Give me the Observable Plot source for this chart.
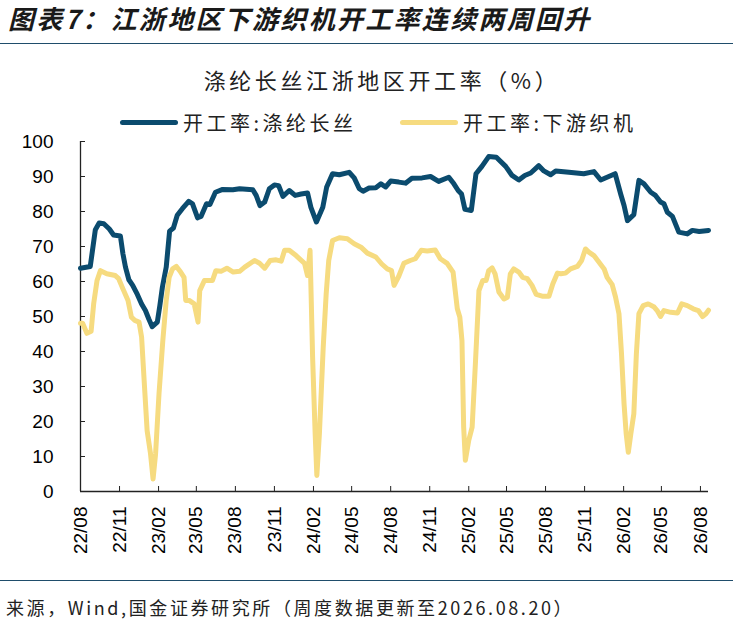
<!DOCTYPE html>
<html><head><meta charset="utf-8">
<script src="https://cdn.jsdelivr.net/npm/d3@7"></script>
<script src="https://cdn.jsdelivr.net/npm/@observablehq/plot@0.6"></script>
<style>
body{margin:0;width:733px;height:622px;position:relative;background:#fff;overflow:hidden;font-family:"Noto Sans CJK SC",sans-serif;}
#title{position:absolute;left:8px;top:2px;font-size:26px;font-weight:700;font-style:italic;letter-spacing:2.3px;color:#1a1a1a;line-height:32px;white-space:nowrap;}
.rule{position:absolute;left:0;width:733px;height:0;border-top:1.5px solid #1f4d6b;}
#ctitle{position:absolute;left:382px;top:64px;transform:translateX(-50%);font-size:22px;letter-spacing:3.6px;line-height:30px;color:#222;white-space:nowrap;}
.leg{position:absolute;top:108px;height:28px;display:flex;align-items:center;font-size:20px;letter-spacing:3.5px;color:#222;white-space:nowrap;}
.sw{width:58px;height:5px;border-radius:3px;margin-right:5px;}
#chart{position:absolute;left:0;top:125px;}
#source{position:absolute;left:6px;top:594px;font-size:18px;line-height:26px;letter-spacing:2.6px;color:#222;white-space:nowrap;}
</style></head>
<body>
<div id="title">图表7：江浙地区下游织机开工率连续两周回升</div>
<div class="rule" style="top:43px"></div>
<div id="ctitle">涤纶长丝江浙地区开工率（%）</div>
<div class="leg" style="left:120px"><div class="sw" id="sw1"></div><span id="lab1"></span></div>
<div class="leg" style="left:400px"><div class="sw" id="sw2"></div><span id="lab2"></span></div>
<div id="chart"></div>
<div class="rule" style="top:580px"></div>
<div id="source">来源，Wind,国金证券研究所（周度数据更新至2026.08.20）</div>
<script>
const seriesNames = ["开工率:涤纶长丝", "开工率:下游织机"];
const seriesColors = ["#0b4b6e", "#f6db80"];

const polyesterDates = ["2022-08-01","2022-08-24","2022-09-05","2022-09-14","2022-09-25","2022-10-08","2022-10-18","2022-11-03","2022-11-09","2022-11-15","2022-11-23","2022-12-02","2022-12-13","2022-12-23","2023-01-01","2023-01-09","2023-01-17","2023-01-29","2023-02-04","2023-02-10","2023-02-19","2023-02-27","2023-03-08","2023-03-17","2023-03-29","2023-04-13","2023-04-22","2023-05-04","2023-05-12","2023-05-25","2023-06-02","2023-06-15","2023-07-02","2023-07-26","2023-08-11","2023-09-11","2023-09-19","2023-09-28","2023-10-09","2023-10-20","2023-11-01","2023-11-11","2023-11-21","2023-12-06","2023-12-20","2024-01-03","2024-01-18","2024-01-26","2024-02-08","2024-02-23","2024-03-03","2024-03-17","2024-04-02","2024-04-25","2024-05-07","2024-05-19","2024-05-28","2024-06-11","2024-06-27","2024-07-09","2024-07-20","2024-08-01","2024-08-20","2024-09-05","2024-09-20","2024-10-14","2024-11-03","2024-11-22","2024-12-16","2024-12-28","2025-01-07","2025-01-15","2025-01-23","2025-02-07","2025-02-18","2025-03-04","2025-03-20","2025-04-07","2025-04-29","2025-05-14","2025-05-30","2025-06-13","2025-06-27","2025-07-16","2025-07-28","2025-08-13","2025-08-25","2025-09-25","2025-10-30","2025-11-23","2025-12-09","2025-12-28","2026-01-12","2026-01-25","2026-02-02","2026-02-10","2026-02-25","2026-03-09","2026-03-21","2026-04-06","2026-04-17","2026-04-29","2026-05-07","2026-05-15","2026-05-27","2026-06-11","2026-07-01","2026-07-13","2026-07-29","2026-08-20"];
const polyesterValues = [63.8,64.3,74.8,76.7,76.5,75.0,73.3,73.0,67.9,64.1,60.5,58.9,56.3,53.6,51.7,49.3,47.1,48.4,53.1,58.4,64.1,74.4,75.3,78.9,80.8,82.9,82.2,78.2,78.6,82.2,82.0,85.5,86.3,86.2,86.5,86.2,84.6,81.7,82.7,86.5,87.6,87.4,84.3,86.0,84.6,85.0,85.3,81.2,77.0,81.2,86.9,90.8,90.5,91.2,89.6,86.5,85.8,86.7,86.8,87.9,87.0,88.7,88.4,88.1,89.5,89.6,90.0,88.6,89.8,87.9,86.0,85.0,80.6,80.3,90.8,92.9,95.7,95.5,92.9,90.3,89.0,90.3,91.0,93.1,91.6,90.5,91.6,91.2,90.8,91.4,89.0,90.0,90.8,85.0,81.7,77.4,79.1,88.9,87.9,85.5,84.6,82.7,82.2,79.8,78.6,74.1,73.6,74.6,74.3,74.6];

const weavingDates = ["2022-08-01","2022-08-06","2022-08-16","2022-08-26","2022-09-01","2022-09-09","2022-09-17","2022-10-02","2022-10-22","2022-10-30","2022-11-09","2022-11-21","2022-11-29","2022-12-07","2022-12-17","2022-12-23","2022-12-29","2023-01-05","2023-01-13","2023-01-19","2023-01-25","2023-02-02","2023-02-11","2023-02-19","2023-02-26","2023-03-06","2023-03-15","2023-03-25","2023-04-02","2023-04-06","2023-04-14","2023-04-26","2023-05-05","2023-05-09","2023-05-20","2023-06-08","2023-06-16","2023-06-28","2023-07-12","2023-07-27","2023-08-11","2023-08-23","2023-09-15","2023-09-27","2023-10-09","2023-10-22","2023-11-05","2023-11-17","2023-11-25","2023-12-06","2023-12-22","2024-01-11","2024-01-18","2024-01-24","2024-01-30","2024-02-05","2024-02-09","2024-02-15","2024-02-24","2024-03-02","2024-03-08","2024-03-17","2024-04-02","2024-04-21","2024-05-07","2024-05-23","2024-06-07","2024-06-27","2024-07-11","2024-07-24","2024-08-03","2024-08-09","2024-08-20","2024-09-01","2024-09-16","2024-09-28","2024-10-12","2024-10-26","2024-11-14","2024-11-26","2024-12-12","2024-12-26","2025-01-05","2025-01-11","2025-01-16","2025-01-20","2025-01-24","2025-02-01","2025-02-09","2025-02-17","2025-02-25","2025-03-06","2025-03-14","2025-03-20","2025-03-28","2025-04-04","2025-04-13","2025-04-25","2025-05-03","2025-05-10","2025-05-18","2025-05-30","2025-06-08","2025-06-19","2025-06-30","2025-07-10","2025-07-24","2025-08-09","2025-08-18","2025-08-29","2025-09-06","2025-09-17","2025-09-29","2025-10-15","2025-10-25","2025-11-03","2025-11-11","2025-11-23","2025-12-05","2025-12-17","2025-12-24","2026-01-05","2026-01-13","2026-01-21","2026-01-27","2026-02-02","2026-02-07","2026-02-12","2026-02-18","2026-02-25","2026-03-03","2026-03-09","2026-03-19","2026-03-31","2026-04-14","2026-04-21","2026-04-29","2026-05-07","2026-05-23","2026-06-08","2026-06-18","2026-07-01","2026-07-15","2026-07-27","2026-08-06","2026-08-14","2026-08-20"];
const weavingValues = [48.1,48.1,45.2,45.8,53.6,60.3,63.1,62.2,61.7,60.8,57.9,54.6,49.8,48.9,48.4,44.1,31.7,17.4,10.8,3.6,10.8,27.9,43.1,54.6,61.2,63.6,64.3,62.7,61.2,54.6,54.6,53.6,48.4,57.4,60.3,60.3,63.1,62.9,63.8,62.7,62.9,64.1,66.0,65.2,63.8,66.0,66.2,65.8,68.9,68.9,67.4,65.2,61.7,68.9,38.4,16.5,4.6,16.5,41.2,56.5,66.0,71.7,72.5,72.2,70.8,69.8,68.1,67.0,65.0,63.6,63.1,58.9,61.5,65.2,66.0,66.5,68.9,68.7,69.0,66.5,65.2,62.7,52.2,49.8,43.1,18.4,8.9,14.6,18.4,37.4,57.4,60.3,60.3,63.1,63.9,62.2,57.0,55.0,55.5,62.2,63.6,62.7,61.2,60.8,58.9,56.3,55.8,55.8,59.3,62.4,62.2,62.4,63.6,64.3,66.0,69.3,68.4,67.4,65.5,63.6,61.2,59.1,55.5,50.8,39.3,25.0,16.5,11.2,16.5,22.2,39.3,50.8,53.1,53.6,52.7,51.7,50.0,51.7,51.2,51.0,53.6,53.1,52.2,51.7,50.0,50.8,51.8];

const xTickLabels = ["22/08","22/11","23/02","23/05","23/08","23/11","24/02","24/05","24/08","24/11","25/02","25/05","25/08","25/11","26/02","26/05","26/08"];
const yTicks = [0,10,20,30,40,50,60,70,80,90,100];
const lastDate = "2026-08-20";

const xTickDates = xTickLabels.map(s => new Date(`20${s.slice(0,2)}-${s.slice(3,5)}-01`));
const polyester = polyesterDates.map((d,i) => ({date: new Date(d), value: polyesterValues[i]}));
const weaving = weavingDates.map((d,i) => ({date: new Date(d), value: weavingValues[i]}));

document.getElementById("sw1").style.background = seriesColors[0];
document.getElementById("sw2").style.background = seriesColors[1];
document.getElementById("lab1").textContent = seriesNames[0];
document.getElementById("lab2").textContent = seriesNames[1];

const chart = Plot.plot({
  width: 733, height: 455,
  marginLeft: 80, marginRight: 25, marginTop: 16, marginBottom: 89,
  x: {type: "utc", domain: [xTickDates[0], new Date(lastDate)], label: null},
  y: {domain: [0, 100], label: null},
  style: {fontFamily: "'Liberation Sans', Arial, sans-serif", fontSize: "19px", color: "#000", background: "transparent", overflow: "visible"},
  marks: [
    Plot.axisY(yTicks, {tickSize: -5, tickFormat: () => "", stroke: "#222", label: null}),
    Plot.axisY(yTicks, {tickSize: 0, tickPadding: 27, fontSize: 19, fill: "#000", label: null}),
    Plot.axisX(xTickDates, {tickSize: -5, tickFormat: () => "", stroke: "#222", label: null}),
    Plot.axisX(xTickDates, {tickSize: 0, tickPadding: 15, tickRotate: -90, tickFormat: d3.utcFormat("%y/%m"), fontSize: 19, fill: "#000", label: null}),
    Plot.ruleY([0], {stroke: "#222", strokeWidth: 1.3}),
    Plot.ruleX([xTickDates[0]], {stroke: "#222", strokeWidth: 1.3}),
    Plot.lineY(polyester, {x: "date", y: "value", stroke: seriesColors[0], strokeWidth: 5, strokeLinejoin: "round", strokeLinecap: "round"}),
    Plot.lineY(weaving, {x: "date", y: "value", stroke: seriesColors[1], strokeWidth: 5, strokeLinejoin: "round", strokeLinecap: "round"})
  ]
});
document.getElementById("chart").appendChild(chart);
</script>
</body></html>
